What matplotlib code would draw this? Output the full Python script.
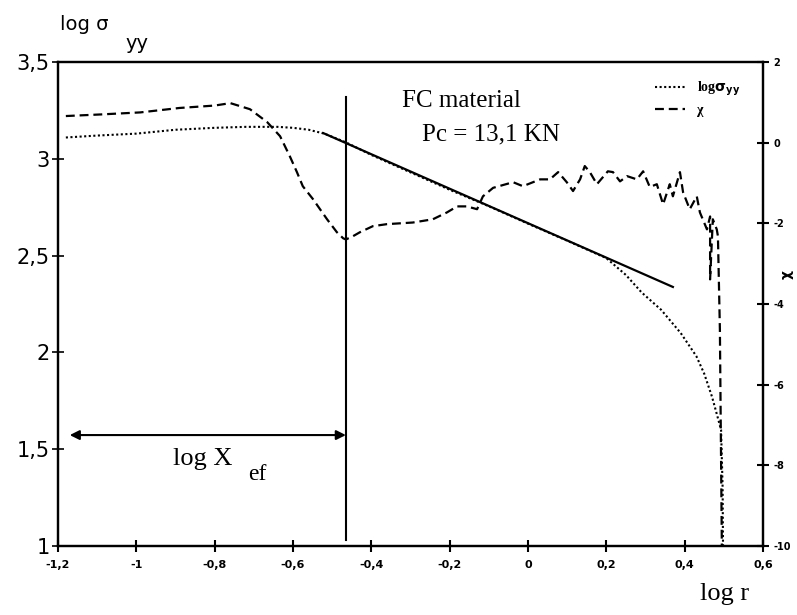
import matplotlib
matplotlib.use("Agg")
import matplotlib.pyplot as plt
from matplotlib.lines import Line2D

# ---- data ----
sigma_x = [-1.18, -1.10, -1.00, -0.90, -0.80, -0.72, -0.64, -0.60, -0.56, -0.52,
           -0.465, -0.40, -0.30, -0.20, -0.10, 0.00, 0.10, 0.20, 0.25, 0.29,
           0.34, 0.39, 0.43, 0.45, 0.47, 0.485, 0.493, 0.497, 0.498]
sigma_y = [3.11, 3.12, 3.13, 3.15, 3.16, 3.165, 3.165, 3.16, 3.15, 3.13,
           3.085, 3.02, 2.93, 2.84, 2.755, 2.665, 2.577, 2.487, 2.40, 2.31,
           2.22, 2.10, 1.98, 1.89, 1.77, 1.66, 1.60, 1.30, 1.00]

chi_x = [-1.18, -1.09, -0.99, -0.89, -0.80, -0.76, -0.71, -0.666, -0.633, -0.608,
         -0.59, -0.575, -0.549, -0.513, -0.488, -0.472, -0.465, -0.447, -0.429, -0.396,
         -0.36, -0.294, -0.243, -0.207, -0.181, -0.156, -0.13, -0.115, -0.089, -0.038,
         -0.013, 0.031, 0.056, 0.077, 0.099, 0.115, 0.133, 0.145, 0.158, 0.176,
         0.204, 0.217, 0.235, 0.253, 0.278, 0.294, 0.311, 0.329, 0.345, 0.362,
         0.370, 0.388, 0.396, 0.413, 0.431, 0.439, 0.457, 0.465, 0.465, 0.472,
         0.482, 0.485, 0.490, 0.495]
chi_y = [0.66, 0.70, 0.75, 0.86, 0.92, 0.98, 0.83, 0.51, 0.16, -0.34,
         -0.73, -1.08, -1.40, -1.90, -2.22, -2.37, -2.40, -2.32, -2.22, -2.07,
         -2.02, -1.98, -1.90, -1.73, -1.58, -1.58, -1.65, -1.33, -1.12, -0.98,
         -1.08, -0.91, -0.91, -0.73, -0.98, -1.20, -0.91, -0.58, -0.73, -1.03,
         -0.71, -0.73, -0.96, -0.83, -0.91, -0.71, -1.10, -1.03, -1.53, -1.03,
         -1.33, -0.73, -1.23, -1.65, -1.33, -1.73, -2.15, -1.83, -3.39, -1.90,
         -2.15, -2.32, -4.63, -10.0]

fit_x = [-0.523, 0.37]
fit_y = [3.133, 2.338]

x_ef = -0.465
x_ef_start = -1.17
arrow_level = 1.573
vline_y = [3.32, 1.03]

xticks = [-1.2, -1.0, -0.8, -0.6, -0.4, -0.2, 0.0, 0.2, 0.4, 0.6]
xtick_labels = ['-1,2', '-1', '-0,8', '-0,6', '-0,4', '-0,2', '0', '0,2', '0,4', '0,6']
yticks = [1, 1.5, 2, 2.5, 3, 3.5]
ytick_labels = ['1', '1,5', '2', '2,5', '3', '3,5']
y2ticks = [-10, -8, -6, -4, -2, 0, 2]
y2tick_labels = ['-10', '-8', '-6', '-4', '-2', '0', '2']

# ---- figure ----
fig = plt.figure(figsize=(7.97, 6.15), dpi=100)
ax = fig.add_axes([0.0728, 0.1122, 0.8845, 0.787])
ax2 = ax.twinx()

ax.set_xlim(-1.2, 0.6)
ax.set_ylim(1, 3.5)
ax2.set_ylim(-10, 2)

for a in (ax, ax2):
    for s in a.spines.values():
        s.set_linewidth(1.6)
        s.set_color('black')

ax.plot(sigma_x, sigma_y, color='black', lw=1.5, linestyle=(0, (1, 1.2)))
ax.plot(fit_x, fit_y, color='black', lw=1.6)
ax2.plot(chi_x, chi_y, color='black', lw=1.6, linestyle=(0, (4, 2.2)))

ax.plot([x_ef, x_ef], vline_y, color='black', lw=1.5)
ax.annotate('', xy=(x_ef_start, arrow_level), xytext=(x_ef, arrow_level),
            arrowprops=dict(arrowstyle='<|-|>', color='black', lw=1.5,
                            mutation_scale=14, shrinkA=0, shrinkB=0))

# ticks
ax.set_xticks(xticks)
ax.set_xticklabels(xtick_labels, fontsize=8, fontweight='bold')
ax.set_yticks(yticks)
ax.set_yticklabels(ytick_labels, fontsize=15)
ax.tick_params(axis='x', direction='inout', length=8, width=1.5, pad=6)
ax.tick_params(axis='y', direction='inout', length=8, width=1.2, pad=2)
ax2.set_yticks(y2ticks)
ax2.set_yticklabels(y2tick_labels, fontsize=7, fontweight='bold')
ax2.tick_params(axis='y', direction='inout', length=9, width=1.5, pad=3)

serif = 'Liberation Serif'
ax.text(-0.322, 3.268, 'FC material', fontsize=18, family=serif)
ax.text(-0.271, 3.097, 'Pc = 13,1 KN', fontsize=18, family=serif)
ax.text(-0.906, 1.418, 'log X', fontsize=19, family=serif)
ax.text(-0.715, 1.34, 'ef', fontsize=17, family=serif)

fig.text(0.878, 0.024, 'log r', fontsize=19, family=serif)
fig.text(0.075, 0.952, 'log σ', fontsize=14)
fig.text(0.158, 0.920, 'yy', fontsize=14)
fig.text(0.987, 0.553, 'χ', fontsize=10, fontweight='bold', rotation=90,
         ha='center', va='center')

handles = [Line2D([], [], color='black', lw=1.5, linestyle=(0, (1, 1.2))),
           Line2D([], [], color='black', lw=1.6, linestyle=(0, (4, 2.2)))]
ax.legend(handles, [r'log$\mathbf{\sigma}_{\mathbf{yy}}$', 'χ'], loc='upper right',
          bbox_to_anchor=(0.975, 0.975), frameon=False,
          prop={'size': 10, 'weight': 'bold', 'family': serif},
          handlelength=2.2, labelspacing=0.4, handletextpad=0.8,
          borderaxespad=0)

fig.savefig('out.png', dpi=100)
